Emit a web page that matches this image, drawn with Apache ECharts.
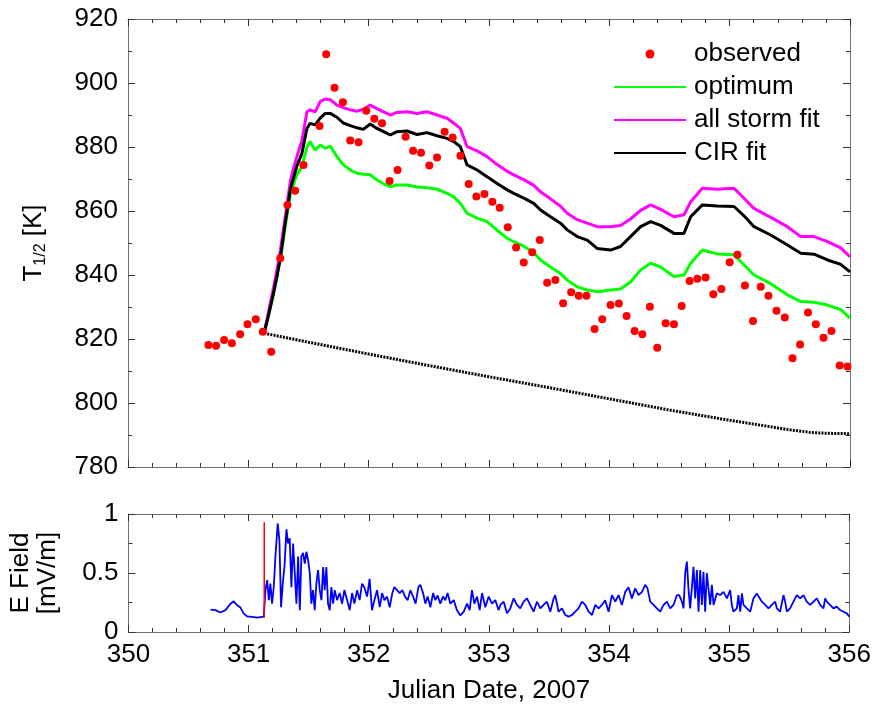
<!DOCTYPE html>
<html><head><meta charset="utf-8">
<script src="https://cdn.jsdelivr.net/npm/echarts@6/dist/echarts.min.js"></script>
<style>html,body{margin:0;padding:0;background:#fff}#c{width:874px;height:707px}</style>
</head><body><div id="c"></div>
<script>
// ---------- observed T1/2 ----------
const obsDays = [350.668,350.732,350.799,350.863,350.932,350.993,351.062,351.121,351.190,351.265,
351.325,351.389,351.458,351.592,351.647,351.716,351.786,351.847,351.916,351.980,
352.047,352.111,352.174,352.240,352.307,352.369,352.435,352.504,352.568,352.631,
352.698,352.762,352.831,352.895,352.962,353.028,353.089,353.156,353.225,353.289,
353.359,353.422,353.483,353.552,353.616,353.683,353.746,353.810,353.877,353.941,
354.010,354.079,354.143,354.210,354.274,354.337,354.398,354.468,354.537,354.601,
354.667,354.731,354.800,354.864,354.931,355.000,355.064,355.127,355.194,355.258,
355.322,355.389,355.458,355.522,355.585,355.651,355.716,355.780,355.846,355.915,355.979];
const obsTemps = [818.1,817.9,819.7,818.7,821.5,824.6,826.2,822.3,816.0,845.2,
861.9,866.3,874.4,886.6,909.0,898.5,894.0,882.0,881.5,891.3,
888.8,887.4,869.4,872.8,883.2,878.8,878.2,874.2,876.7,884.8,
883.0,877.3,868.4,864.5,865.3,862.9,861.0,854.9,848.6,843.9,
847.1,850.9,837.6,838.4,831.2,834.6,833.5,833.5,823.1,826.2,
830.6,831.1,827.2,822.5,821.5,830.1,817.3,824.9,824.6,830.3,
838.1,838.8,839.2,834.0,835.6,844.0,846.3,836.7,825.6,836.3,
833.5,828.8,826.7,814.0,818.3,828.3,824.6,820.4,822.5,811.7,811.4];

// ---------- model fits ----------
const fitDays = [351.131,351.165,351.209,351.240,351.265,351.306,351.348,351.373,351.403,351.445,
351.487,351.514,351.556,351.597,351.639,351.681,351.736,351.789,351.847,351.903,
351.955,352.013,352.069,352.124,352.180,352.235,352.319,352.402,352.485,352.568,
352.651,352.706,352.762,352.818,352.901,352.984,353.067,353.151,353.206,353.289,
353.372,353.428,353.511,353.594,353.650,353.733,353.816,353.899,354.010,354.093,
354.176,354.260,354.343,354.426,354.537,354.620,354.676,354.773,354.898,355.036,
355.119,355.202,355.341,355.480,355.591,355.701,355.813,355.923,356.000];
const cirFit = [821.8,827,834.3,840,845,856,866.5,870,874,878,
885.8,887.4,886.9,889,890.5,890.5,889.3,887.5,886.7,886,
885.5,887.2,885.8,884.8,883.75,884.8,885,883.9,884.5,883.5,
882.7,881.7,880.1,874.4,872.8,870.7,868.6,866.6,865.5,864,
862.4,860.3,858.2,856.2,854.1,852,850.9,848.3,847.8,848.9,
852,855.1,856.7,855.5,853,853,858.2,861.9,861.6,861.4,
858.5,855.1,852.5,849.4,846.8,846.5,844.7,843.3,841];
const allStormFit = [821.8,828,836,842,847.5,858,869,873,877,882,
891,891.6,891,894.2,895,894.8,893.1,892.3,891.6,891.2,
891.8,893.1,892,891,890,890.8,891,890.5,891,890,
889,887.5,885.8,880.1,878.8,877,874.5,872.4,871.3,869.8,
868,866,863.8,861.5,859.3,857.3,856.2,855.1,855.1,855.5,
857.5,860.2,861.9,860.5,858.2,858.8,862.9,867.1,866.8,867.1,
864,860.8,858,855.1,852,852,850.4,848.5,845.7];
const optimumFit = [821.8,827,834,840,845,855,865,868,871.3,873.8,
880,881.7,879,880.6,879.6,880.3,877,874.5,872.8,871.8,
871.5,871.3,869.7,868.5,867.6,868.1,868.1,867.5,867.3,866.8,
865.5,864.5,862.4,859.3,857.8,856.7,854,851.5,850.4,849,
847,844.7,842.5,840.5,838.4,836.3,835.3,834.8,835.3,835.6,
837.8,841.6,843.7,842.5,839.5,840,843.7,847.8,846.6,846.3,
843.2,840,837.3,833.8,831.7,831.5,830.6,829.2,826.5];

// ---------- quiet-time baseline (dotted) ----------
const baseDays = [351.131,351.5,352.0,352.5,353.0,353.5,354.0,354.5,355.0,355.5,355.7,355.85,356.0];
const baseTemps = [821.8,819,815.3,811.7,808.2,804.8,801.3,797.8,794.6,791.6,790.7,790.5,790.4];

// ---------- E field ----------
const efDays = [350.682,350.724,350.765,350.807,350.849,350.876,350.904,350.932,350.959,350.987,351.029,351.070,351.126,
351.140,351.154,351.168,351.181,351.195,351.209,351.223,351.242,351.256,351.270,351.284,351.298,351.315,351.328,351.342,
351.356,351.370,351.384,351.398,351.412,351.426,351.439,351.453,351.467,351.481,351.495,351.509,351.522,351.536,351.550,
351.564,351.578,351.592,351.606,351.620,351.633,351.647,351.661,351.675,351.689,351.703,351.717,351.736,351.758,351.778,
351.797,351.820,351.841,351.861,351.880,351.903,351.924,351.944,351.963,351.986,352.007,352.027,352.047,352.069,352.091,
352.111,352.130,352.152,352.174,352.196,352.213,352.235,352.257,352.280,352.302,352.324,352.346,352.369,352.390,352.413,
352.429,352.452,352.471,352.490,352.513,352.535,352.554,352.573,352.596,352.618,352.637,352.656,352.679,352.707,352.734,
352.762,352.790,352.818,352.840,352.859,352.879,352.901,352.923,352.943,352.970,352.998,353.026,353.053,353.081,353.095,
353.123,353.150,353.178,353.206,353.234,353.261,353.289,353.317,353.344,353.372,353.400,353.428,353.455,353.483,353.511,
353.539,353.552,353.580,353.608,353.636,353.663,353.691,353.719,353.746,353.774,353.802,353.830,353.858,353.885,353.913,
353.941,353.968,353.996,354.024,354.052,354.079,354.107,354.135,354.162,354.190,354.218,354.246,354.274,354.301,354.320,
354.343,354.371,354.398,354.426,354.453,354.482,354.509,354.537,354.565,354.584,354.607,354.620,354.634,354.648,354.661,
354.675,354.689,354.703,354.717,354.731,354.745,354.759,354.773,354.786,354.800,354.814,354.842,354.856,354.870,354.897,
354.925,354.953,354.981,355.008,355.022,355.036,355.064,355.077,355.092,355.106,355.119,355.147,355.175,355.202,355.230,
355.244,355.272,355.300,355.327,355.355,355.383,355.397,355.424,355.452,355.466,355.480,355.507,355.535,355.563,355.591,
355.618,355.646,355.674,355.702,355.730,355.757,355.785,355.799,355.813,355.840,355.868,355.896,355.923,355.951,355.979,356.000];
const efValues = [0.19,0.185,0.165,0.185,0.24,0.26,0.227,0.207,0.156,0.133,0.128,0.122,0.13,
0.355,0.44,0.27,0.41,0.24,0.38,0.64,0.92,0.78,0.21,0.41,0.55,0.87,0.75,0.795,
0.38,0.75,0.5,0.24,0.64,0.185,0.64,0.67,0.58,0.68,0.61,0.5,0.24,0.355,0.185,
0.41,0.525,0.355,0.27,0.55,0.355,0.55,0.24,0.185,0.38,0.24,0.355,0.27,0.33,0.24,
0.355,0.27,0.185,0.33,0.24,0.355,0.27,0.41,0.38,0.3,0.45,0.185,0.27,0.355,0.21,
0.33,0.27,0.3,0.21,0.33,0.38,0.355,0.33,0.355,0.3,0.27,0.355,0.3,0.24,0.38,
0.4,0.33,0.24,0.3,0.21,0.33,0.27,0.31,0.24,0.3,0.27,0.33,0.24,0.27,0.185,
0.14,0.17,0.24,0.185,0.355,0.24,0.3,0.185,0.33,0.21,0.3,0.24,0.27,0.185,0.229,
0.257,0.158,0.2,0.285,0.229,0.2,0.257,0.285,0.229,0.172,0.257,0.2,0.229,0.257,0.172,
0.285,0.313,0.172,0.2,0.144,0.13,0.144,0.172,0.2,0.257,0.229,0.172,0.144,0.229,0.2,
0.229,0.27,0.172,0.313,0.257,0.313,0.229,0.34,0.38,0.285,0.37,0.313,0.34,0.4,0.37,
0.257,0.229,0.2,0.172,0.229,0.257,0.2,0.229,0.313,0.313,0.257,0.2,0.5,0.596,0.37,
0.2,0.37,0.553,0.285,0.525,0.172,0.525,0.229,0.51,0.172,0.5,0.229,0.4,0.229,0.328,
0.313,0.34,0.285,0.355,0.229,0.172,0.2,0.313,0.172,0.327,0.229,0.2,0.172,0.285,0.327,
0.34,0.257,0.229,0.2,0.229,0.257,0.2,0.172,0.313,0.257,0.172,0.2,0.257,0.313,0.285,
0.313,0.257,0.229,0.257,0.285,0.229,0.2,0.285,0.257,0.229,0.2,0.215,0.186,0.172,0.158,0.13];

// storm-onset marker
const onsetDay = 351.13;
const onsetRange = [0.12, 0.93];

// axes
const xTicks = [350, 356, 1];
const tRange = [780, 920, 20];
const eRange = [0, 1, 0.5];

const legendNames = ['observed', 'optimum', 'all storm fit', 'CIR fit'];

const pairs = (xs, ys) => xs.map((x, i) => [x, ys[i]]);

const FONT = '"Liberation Sans", Arial, Helvetica, sans-serif';
const AX = '#707070';
const TK = '#333333';

function xAxisDef(gridIndex, position, showLabel, name) {
  return {
    type: 'value', gridIndex, position, min: xTicks[0], max: xTicks[1], interval: xTicks[2],
    axisLine: { show: true, onZero: false, lineStyle: { color: AX, width: 1 } },
    axisTick: { show: true, inside: true, length: 7, lineStyle: { color: TK, width: 1 } },
    minorTick: { show: true, splitNumber: 5, length: 4, lineStyle: { color: TK, width: 1 } },
    splitLine: { show: false }, minorSplitLine: { show: false },
    axisLabel: { show: showLabel, fontSize: 26, color: '#000', fontFamily: FONT, margin: 10 },
    name: name || '', nameLocation: 'middle', nameGap: 46,
    nameTextStyle: { fontSize: 26, color: '#000', fontFamily: FONT }
  };
}
function yAxisDef(gridIndex, position, range, minorSplit, showLabel, name, rich, nameGap) {
  return {
    type: 'value', gridIndex, position, min: range[0], max: range[1], interval: range[2],
    axisLine: { show: true, onZero: false, lineStyle: { color: AX, width: 1 } },
    axisTick: { show: true, inside: true, length: 7, lineStyle: { color: TK, width: 1 } },
    minorTick: { show: true, splitNumber: minorSplit, length: 4, lineStyle: { color: TK, width: 1 } },
    splitLine: { show: false }, minorSplitLine: { show: false },
    axisLabel: { show: showLabel, fontSize: 26, color: '#000', fontFamily: FONT, margin: 10 },
    name: name || '', nameLocation: 'middle', nameRotate: 90, nameGap: nameGap || 0,
    nameTextStyle: { fontSize: 26, color: '#000', fontFamily: FONT, rich: rich || {} }
  };
}

const legendData = legendNames.map((n, i) => i === 0 ? { name: n } : { name: n, itemStyle: { opacity: 0 } });

const chart = echarts.init(document.getElementById('c'));
chart.setOption({
  animation: false,
  backgroundColor: '#fff',
  textStyle: { fontFamily: FONT },
  grid: [
    { left: 128, top: 19, width: 722, height: 448 },
    { left: 128, top: 514, width: 722, height: 118 }
  ],
  legend: {
    data: legendData, orient: 'vertical', left: 608, top: 36,
    itemWidth: 72, itemHeight: 9, itemGap: 7,
    textStyle: { fontSize: 26, color: '#000', fontFamily: FONT, lineHeight: 26, padding: [0, 0, 0, 3] },
    selectedMode: false
  },
  xAxis: [
    xAxisDef(0, 'bottom', false),
    xAxisDef(0, 'top', false),
    xAxisDef(1, 'bottom', true, 'Julian Date, 2007'),
    xAxisDef(1, 'top', false)
  ],
  yAxis: [
    yAxisDef(0, 'left', tRange, 2, true, '{a|T}{b|1/2}{a| [K]}', {
      a: { fontSize: 26, fontFamily: FONT, color: '#000' },
      b: { fontSize: 16, fontFamily: FONT, color: '#000', padding: [14, 0, 0, 0] }
    }, 79),
    yAxisDef(0, 'right', tRange, 2, false),
    yAxisDef(1, 'left', eRange, 2, true, '{a|E Field}\n{a|[mV/m]}', {
      a: { fontSize: 26, fontFamily: FONT, color: '#000', lineHeight: 27 }
    }, 67),
    yAxisDef(1, 'right', eRange, 2, false)
  ],
  series: [
    { name: 'baseline', type: 'line', xAxisIndex: 0, yAxisIndex: 0, data: pairs(baseDays, baseTemps),
      symbol: 'none', lineStyle: { color: '#000', width: 3, type: [2, 1.2] }, z: 2 },
    { name: 'optimum', type: 'line', xAxisIndex: 0, yAxisIndex: 0, data: pairs(fitDays, optimumFit),
      symbol: 'none', color: '#00ff00', lineStyle: { color: '#00ff00', width: 3 }, z: 3 },
    { name: 'all storm fit', type: 'line', xAxisIndex: 0, yAxisIndex: 0, data: pairs(fitDays, allStormFit),
      symbol: 'none', color: '#ff00ff', lineStyle: { color: '#ff00ff', width: 3 }, z: 3 },
    { name: 'CIR fit', type: 'line', xAxisIndex: 0, yAxisIndex: 0, data: pairs(fitDays, cirFit),
      symbol: 'none', color: '#000000', lineStyle: { color: '#000000', width: 3 }, z: 4 },
    { name: 'observed', type: 'scatter', xAxisIndex: 0, yAxisIndex: 0, data: pairs(obsDays, obsTemps),
      symbol: 'circle', symbolSize: 8, itemStyle: { color: '#ff0000', opacity: 1 }, z: 5 },
    { name: 'E field', type: 'line', xAxisIndex: 2, yAxisIndex: 2, data: pairs(efDays, efValues),
      symbol: 'none', lineStyle: { color: '#0000ff', width: 1.8 }, z: 3 },
    { name: 'onset', type: 'line', xAxisIndex: 2, yAxisIndex: 2,
      data: [[onsetDay, onsetRange[0]], [onsetDay, onsetRange[1]]],
      symbol: 'none', lineStyle: { color: '#ff0000', width: 1.5 }, z: 4 }
  ]
});
</script></body></html>
